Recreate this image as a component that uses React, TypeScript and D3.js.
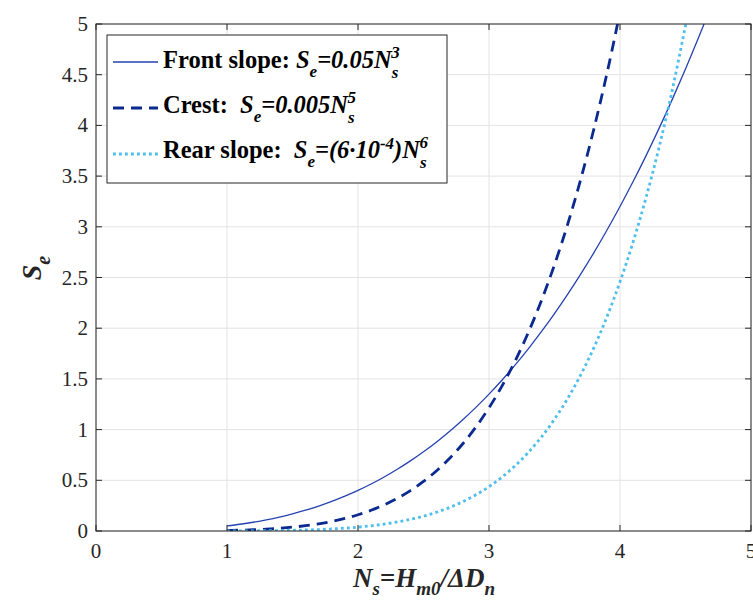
import React from "react";
import * as d3 from "d3";

const frontX = [1.0,1.1,1.2,1.3,1.4,1.5,1.6,1.7,1.8,1.9,2.0,2.1,2.2,2.3,2.4,2.5,2.6,2.7,2.8,2.9,3.0,3.1,3.2,3.3,3.4,3.5,3.6,3.7,3.8,3.9,4.0,4.1,4.2,4.3,4.4,4.5,4.6,4.65];
const frontY = [0.05,0.0666,0.0864,0.1099,0.1372,0.1688,0.2048,0.2457,0.2916,0.343,0.4,0.4631,0.5324,0.6084,0.6912,0.7813,0.8788,0.9842,1.0976,1.2195,1.35,1.4896,1.6384,1.7969,1.9652,2.1438,2.3328,2.5327,2.7436,2.966,3.2,3.4461,3.7044,3.9754,4.2592,4.5563,4.8668,5.027];

const crestX = [1.0,1.1,1.2,1.3,1.4,1.5,1.6,1.7,1.8,1.9,2.0,2.1,2.2,2.3,2.4,2.5,2.6,2.7,2.8,2.9,3.0,3.1,3.2,3.3,3.4,3.5,3.6,3.7,3.8,3.9,3.95,4.0];
const crestY = [0.005,0.00805,0.01244,0.01856,0.02689,0.03797,0.05243,0.07099,0.09448,0.1238,0.16,0.2042,0.2577,0.3218,0.3981,0.4883,0.5941,0.7174,0.8605,1.0256,1.215,1.4315,1.6777,1.9568,2.2718,2.6261,3.0233,3.4672,3.9618,4.5112,4.8079,5.12];

const rearX = [1.0,1.1,1.2,1.3,1.4,1.5,1.6,1.7,1.8,1.9,2.0,2.1,2.2,2.3,2.4,2.5,2.6,2.7,2.8,2.9,3.0,3.1,3.2,3.3,3.4,3.5,3.6,3.7,3.8,3.9,4.0,4.1,4.2,4.3,4.4,4.5,4.51];
const rearY = [0.0006,0.00106,0.00179,0.0029,0.00452,0.00683,0.01007,0.01448,0.02041,0.02823,0.0384,0.05146,0.06803,0.08882,0.11466,0.14648,0.18535,0.23245,0.28913,0.35689,0.4374,0.5325,0.64425,0.77488,0.92688,1.10296,1.30607,1.53944,1.80656,2.11125,2.4576,2.85006,3.29342,3.79282,4.35379,4.98226,5.046];

const xTicks = [0, 1, 2, 3, 4, 5];
const yTicks = [0, 0.5, 1, 1.5, 2, 2.5, 3, 3.5, 4, 4.5, 5];
const yTickLabels = ["0", "0.5", "1", "1.5", "2", "2.5", "3", "3.5", "4", "4.5", "5"];

const W = 753, H = 606;
const L = 96, R = 751, T = 24, B = 531;
const FONT = "'Liberation Serif', 'DejaVu Serif', serif";
const AX = "#262626";
const C_FRONT = "#2642b0";
const C_CREST = "#0a2a90";
const C_REAR = "#4dbeee";

export default function App() {
  const x = d3.scaleLinear().domain([0, 5]).range([L, R]);
  const y = d3.scaleLinear().domain([0, 5]).range([B, T]);
  const line = (xs: number[], ys: number[]) =>
    d3.line<number>().x((_, i) => x(xs[i])).y((d) => y(d)).curve(d3.curveMonotoneX)(ys) || "";

  const legendRows = [
    { y: 62, color: C_FRONT, width: 1.3, dash: "none" },
    { y: 108, color: C_CREST, width: 2.8, dash: "11,7" },
    { y: 154, color: C_REAR, width: 2.8, dash: "2.8,3.2" },
  ];
  const ls = 24.5;
  const sub = 17;

  return (
    <div style={{ position: "absolute", left: 0, top: 0 }}>
      <svg width={W} height={H} style={{ display: "block", background: "#fff" }}>
        <defs>
          <clipPath id="plot">
            <rect x={L} y={T} width={R - L} height={B - T} />
          </clipPath>
        </defs>
        <rect x={0} y={0} width={W} height={H} fill="#fff" />
        {/* grid */}
        {xTicks.map((t) => (
          <line key={"gx" + t} x1={x(t)} x2={x(t)} y1={T} y2={B} stroke="#e3e3e3" strokeWidth={1} />
        ))}
        {yTicks.map((t) => (
          <line key={"gy" + t} x1={L} x2={R} y1={y(t)} y2={y(t)} stroke="#e3e3e3" strokeWidth={1} />
        ))}
        {/* curves */}
        <g clipPath="url(#plot)" fill="none">
          <path d={line(frontX, frontY)} stroke={C_FRONT} strokeWidth={1.3} />
          <path d={line(crestX, crestY)} stroke={C_CREST} strokeWidth={2.8} strokeDasharray="11,7" />
          <path d={line(rearX, rearY)} stroke={C_REAR} strokeWidth={2.8} strokeDasharray="2.8,3.2" />
        </g>
        {/* axes box */}
        <rect x={L} y={T} width={R - L} height={B - T} fill="none" stroke={AX} strokeWidth={1} />
        {xTicks.map((t) => (
          <g key={"tx" + t}>
            <line x1={x(t)} x2={x(t)} y1={B} y2={B - 6} stroke={AX} />
            <line x1={x(t)} x2={x(t)} y1={T} y2={T + 6} stroke={AX} />
            <text x={x(t)} y={B + 27} textAnchor="middle" fontFamily={FONT} fontSize={21} fill={AX}>
              {t}
            </text>
          </g>
        ))}
        {yTicks.map((t, i) => (
          <g key={"ty" + t}>
            <line x1={L} x2={L + 6} y1={y(t)} y2={y(t)} stroke={AX} />
            <line x1={R} x2={R - 6} y1={y(t)} y2={y(t)} stroke={AX} />
            <text x={L - 8} y={y(t) + 7} textAnchor="end" fontFamily={FONT} fontSize={21} fill={AX}>
              {yTickLabels[i]}
            </text>
          </g>
        ))}
        {/* x label */}
        <text x={424} y={587} textAnchor="middle" fontFamily={FONT} fontSize={27} fontWeight="bold" fontStyle="italic" fill={AX}>
          <tspan>N</tspan>
          <tspan fontSize={19} dy={8}>s</tspan>
          <tspan dy={-8}>=H</tspan>
          <tspan fontSize={19} dy={8}>m0</tspan>
          <tspan dy={-8}>/ΔD</tspan>
          <tspan fontSize={19} dy={8}>n</tspan>
        </text>
        {/* y label */}
        <text transform="translate(41,268) rotate(-90)" textAnchor="middle" fontFamily={FONT} fontSize={28} fontWeight="bold" fontStyle="italic" fill={AX}>
          <tspan>S</tspan>
          <tspan fontSize={20} dy={9}>e</tspan>
        </text>
        {/* legend */}
        <rect x={107} y={35} width={340} height={148} fill="#fff" stroke={AX} strokeWidth={1} />
        {legendRows.map((r, i) => (
          <line key={"lg" + i} x1={113} x2={158} y1={r.y} y2={r.y} stroke={r.color} strokeWidth={r.width} strokeDasharray={r.dash} />
        ))}
        <text x={163} y={68} fontFamily={FONT} fontSize={ls} fontWeight="bold" fill="#000">
          <tspan>Front slope: </tspan>
          <tspan fontStyle="italic">S</tspan>
          <tspan fontStyle="italic" fontSize={sub} dy={9}>e</tspan>
          <tspan fontStyle="italic" dy={-9}>=0.05N</tspan>
          <tspan fontStyle="italic" fontSize={sub} dy={10}>s</tspan>
          <tspan fontStyle="italic" fontSize={sub} dx={-7} dy={-20}>3</tspan>
        </text>
        <text x={163} y={113} fontFamily={FONT} fontSize={ls} fontWeight="bold" fill="#000">
          <tspan>Crest:  </tspan>
          <tspan dx={6} fontStyle="italic">S</tspan>
          <tspan fontStyle="italic" fontSize={sub} dy={9}>e</tspan>
          <tspan fontStyle="italic" dy={-9}>=0.005N</tspan>
          <tspan fontStyle="italic" fontSize={sub} dy={10}>s</tspan>
          <tspan fontStyle="italic" fontSize={sub} dx={-7} dy={-20}>5</tspan>
        </text>
        <text x={163} y={158} fontFamily={FONT} fontSize={ls} fontWeight="bold" fill="#000">
          <tspan>Rear slope: </tspan>
          <tspan dx={6} fontStyle="italic">S</tspan>
          <tspan fontStyle="italic" fontSize={sub} dy={9}>e</tspan>
          <tspan fontStyle="italic" dy={-9}>=(6·10</tspan>
          <tspan fontStyle="italic" fontSize={sub} dy={-9}>-4</tspan>
          <tspan fontStyle="italic" dy={9}>)N</tspan>
          <tspan fontStyle="italic" fontSize={sub} dy={10}>s</tspan>
          <tspan fontStyle="italic" fontSize={sub} dx={-7} dy={-20}>6</tspan>
        </text>
      </svg>
    </div>
  );
}
